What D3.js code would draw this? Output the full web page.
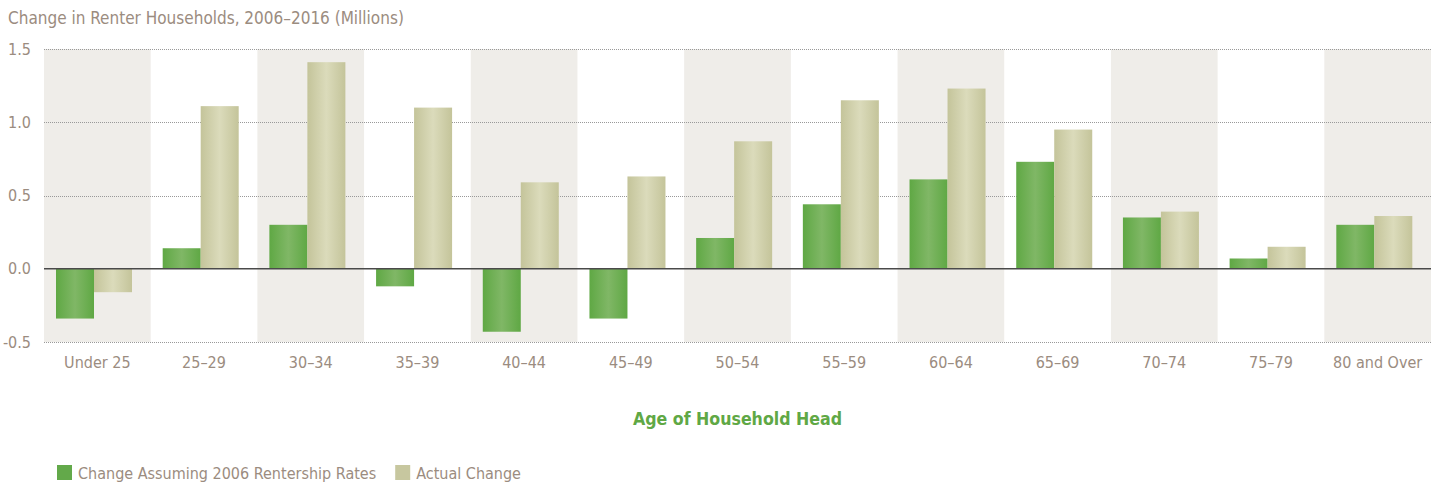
<!DOCTYPE html>
<html>
<head>
<meta charset="utf-8">
<script src="https://cdn.jsdelivr.net/npm/d3@7"></script>
<style>
  body { margin: 0; background: #fff; }
  svg text { font-family: "Liberation Sans Narrow", "DejaVu Sans Condensed", sans-serif; }
</style>
</head>
<body>
<svg id="chart" width="1440" height="485"></svg>
<script>
const ageGroups = ['Under 25', '25\u201329', '30\u201334', '35\u201339', '40\u201344', '45\u201349',
  '50\u201354', '55\u201359', '60\u201364', '65\u201369', '70\u201374', '75\u201379', '80 and Over'];
const seriesNames = ['Change Assuming 2006 Rentership Rates', 'Actual Change'];
const rentershipChange = [-0.34, 0.14, 0.30, -0.12, -0.43, -0.34, 0.21, 0.44, 0.61, 0.73, 0.35, 0.07, 0.30];
const actualChange = [-0.16, 1.11, 1.41, 1.10, 0.59, 0.63, 0.87, 1.15, 1.23, 0.95, 0.39, 0.15, 0.36];
const yTicks = [-0.5, 0, 0.5, 1.0, 1.5];
const yTickLabels = ['-0.5', '0.0', '0.5', '1.0', '1.5'];

const svg = d3.select('#chart'),
    margin = {top: 49, left: 44, right: 9},
    width = 1440 - margin.left - margin.right,
    textColor = '#9b8c80';

const x = d3.scaleBand()
    .domain(ageGroups)
    .range([margin.left, margin.left + width]);

const y = d3.scaleLinear()
    .domain([-0.5, 1.5])
    .range([342, 49]);

const x1 = d3.scaleBand()
    .domain([0, 1])
    .range([12, 88]);

const defs = svg.append('defs');
function addGradient(id, edge, mid) {
  const gr = defs.append('linearGradient')
      .attr('id', id)
      .attr('x1', 0).attr('x2', 1).attr('y1', 0).attr('y2', 0);
  gr.append('stop').attr('offset', '0%').attr('stop-color', edge);
  gr.append('stop').attr('offset', '50%').attr('stop-color', mid);
  gr.append('stop').attr('offset', '100%').attr('stop-color', edge);
}
addGradient('gGreen', '#5fa844', '#80b766');
addGradient('gKhaki', '#c4c49a', '#dbdbbb');
const fills = ['url(#gGreen)', 'url(#gKhaki)'];
const legendColors = ['#63a94a', '#c7c79f'];

// alternating shaded columns
svg.append('g')
    .selectAll('rect')
    .data(ageGroups.filter((d, i) => i % 2 === 0))
    .enter().append('rect')
    .attr('x', d => x(d))
    .attr('width', x.bandwidth())
    .attr('y', y(1.5))
    .attr('height', y(-0.5) - y(1.5))
    .attr('fill', '#efede9');

// dotted gridlines
svg.append('g')
    .selectAll('line')
    .data(yTicks.filter(d => d !== 0))
    .enter().append('line')
    .attr('x1', margin.left)
    .attr('x2', margin.left + width)
    .attr('y1', d => Math.round(y(d)) + 0.5)
    .attr('y2', d => Math.round(y(d)) + 0.5)
    .attr('stroke', '#999')
    .attr('stroke-width', 1)
    .attr('stroke-dasharray', '1,1');

// bars
const groups = svg.append('g')
    .selectAll('g')
    .data(ageGroups.map((d, i) => ({age: d, values: [rentershipChange[i], actualChange[i]]})))
    .enter().append('g')
    .attr('transform', d => `translate(${x(d.age)},0)`);

groups.selectAll('rect')
    .data(d => d.values)
    .enter().append('rect')
    .attr('x', (d, i) => x1(i))
    .attr('width', x1.bandwidth())
    .attr('y', d => y(Math.max(0, d)))
    .attr('height', d => Math.abs(y(d) - y(0)))
    .attr('fill', (d, i) => fills[i]);

// zero line
svg.append('line')
    .attr('x1', margin.left)
    .attr('x2', margin.left + width)
    .attr('y1', y(0))
    .attr('y2', y(0))
    .attr('stroke', '#4a4a4a')
    .attr('stroke-width', 1.6);

// y axis labels
svg.append('g')
    .selectAll('text')
    .data(yTicks)
    .enter().append('text')
    .attr('x', 31)
    .attr('y', d => y(d))
    .attr('dy', '0.35em')
    .attr('text-anchor', 'end')
    .attr('fill', textColor)
    .attr('font-size', 16)
    .text((d, i) => yTickLabels[i]);

// x axis labels
svg.append('g')
    .selectAll('text')
    .data(ageGroups)
    .enter().append('text')
    .attr('x', d => x(d) + x.bandwidth() / 2)
    .attr('y', 362)
    .attr('dy', '0.35em')
    .attr('text-anchor', 'middle')
    .attr('fill', textColor)
    .attr('font-size', 16)
    .text(d => d);

svg.append('text')
    .attr('x', margin.left + width / 2)
    .attr('y', 419)
    .attr('dy', '0.35em')
    .attr('text-anchor', 'middle')
    .attr('fill', '#5fa845')
    .attr('font-size', 17.6)
    .attr('font-weight', 'bold')
    .text('Age of Household Head');

svg.append('text')
    .attr('x', 8)
    .attr('y', 18)
    .attr('dy', '0.35em')
    .attr('fill', textColor)
    .attr('font-size', 17)
    .text('Change in Renter Households, 2006\u20132016 (Millions)');

// legend
const legend = svg.append('g')
    .attr('transform', 'translate(57,465)');
let lx = 0;
seriesNames.forEach((name, i) => {
  const item = legend.append('g').attr('transform', `translate(${lx},0)`);
  item.append('rect')
      .attr('width', 15)
      .attr('height', 15)
      .attr('fill', legendColors[i]);
  const t = item.append('text')
      .attr('x', 21)
      .attr('y', 8)
      .attr('dy', '0.35em')
      .attr('fill', textColor)
      .attr('font-size', 16)
      .text(name);
  lx += 21 + t.node().getComputedTextLength() + 19;
});
</script>
</body>
</html>
